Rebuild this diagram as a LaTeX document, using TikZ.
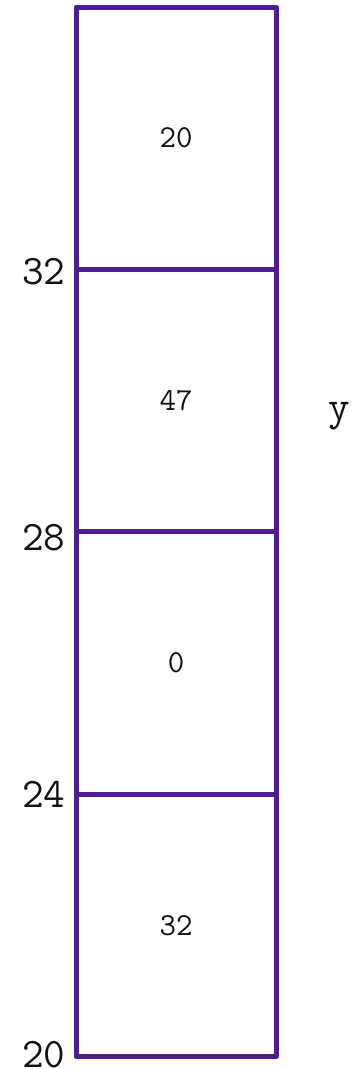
\documentclass[tikz,border=0pt]{standalone}
\usepackage{fontspec}
\usetikzlibrary{positioning}

\begin{document}
\begin{tikzpicture}[
    x=1pt, y=-1pt,
    every node/.style={font=\ttfamily, inner sep=0pt},
]

\definecolor{c1}{HTML}{4F1C92}   % cell borders
\definecolor{axiscolor}{HTML}{111111}

\def\cw{200}     % cell width
\def\ch{262.4}   % cell height

\tikzset{
  cellbox/.style={draw=c1, line width=5pt, line join=round,
    minimum width=\cw pt, minimum height=\ch pt,
    font=\ttfamily\fontsize{32}{38}\selectfont\addfontfeatures{LetterSpace=10},
    text=axiscolor},
  ticklabel/.style={font=\ttfamily\fontsize{42}{50}\selectfont\addfontfeatures{LetterSpace=8},
    text=axiscolor},
}

\useasboundingbox (0,0) rectangle (357,1069);

% the four stacked cells, top to bottom
\foreach \v [count=\r from 0] in {20,47,0,32} {
  \node[cellbox] (cell\r) at (176, 7+\r*\ch+0.5*\ch) {\v};
}

% values on the left, one per lower edge (\dy nudges them as drawn)
\foreach \t/\r/\dy in {32/0/0, 28/1/-3, 24/2/2, 20/3/4} {
  \node[ticklabel, left=8pt of cell\r.south west, yshift=\dy pt] (tick\r) {\t};
}

% axis name
\node[ticklabel, right=50pt of cell1.east, yshift=-16pt] (yname) {y};

\end{tikzpicture}
\end{document}
